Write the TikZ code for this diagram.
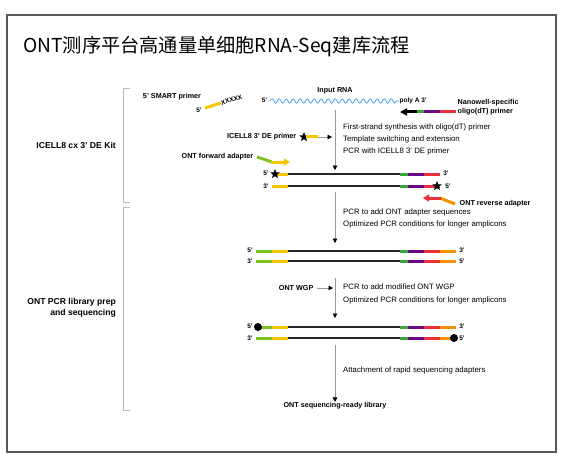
\documentclass[tikz,border=0pt]{standalone}
\usepackage{fontspec}
\setmainfont{Liberation Sans}
\newfontfamily\cjk{Noto Sans CJK SC}
\usetikzlibrary{arrows.meta,decorations.pathmorphing,positioning,shapes.geometric}

\definecolor{adgreen}{HTML}{7CC11F}
\definecolor{dtgreen}{HTML}{3DA63D}
\definecolor{adyellow}{HTML}{F6C700}
\definecolor{dtpurple}{HTML}{660A88}
\definecolor{dtred}{HTML}{E8313B}
\definecolor{adorange}{HTML}{F39200}
\definecolor{rnablue}{HTML}{3A9AF0}

\begin{document}
\begin{tikzpicture}[x=1pt, y=-1pt,
    lbl/.style={font=\bfseries\fontsize{7.2}{8.6}\selectfont, inner sep=0.5pt},
    endlbl/.style={font=\bfseries\fontsize{6.5}{7}\selectfont, inner sep=0.5pt},
    stepnote/.style={font=\fontsize{7.8}{9}\selectfont, anchor=west, inner sep=0pt},
    sidelbl/.style={font=\bfseries\fontsize{8.6}{11}\selectfont, anchor=east, align=right, inner sep=0pt},
    seg/.style={line width=3pt},
    strand/.style={line width=1.1pt, black!85},
    flow/.style={gray!80, line width=0.6pt, -{Triangle[length=4.5pt, width=4.5pt, color=black]}},
    bracket/.style={gray!55, line width=0.5pt},
    starmark/.style={star, star points=5, star point ratio=2.3, fill=black, inner sep=0pt, minimum size=10pt},
    dotmark/.style={circle, fill=black, inner sep=0pt, minimum size=8pt}]
  \useasboundingbox (0,0) rectangle (569,457);

  % frame and title
  \draw[gray!70!black, line width=1.4pt] (7,15) rectangle (556,452);
  \node[anchor=west, inner sep=0pt, font=\cjk\fontsize{19.2}{21}\selectfont] (title) at (23,47) {ONT测序平台高通量单细胞RNA-Seq建库流程};

  % side brackets
  \draw[bracket] (130,88) -- (123,88) -- (123,202) -- (130,202);
  \draw[bracket] (130,207) -- (123,207) -- (123,410) -- (130,410);
  \node[sidelbl] (kit) at (116,145) {ICELL8 cx 3' DE Kit};
  \node[sidelbl] (prep) at (116,308) {ONT PCR library prep\\and sequencing};

  % input RNA and primers
  \node[lbl] (rna) at (335,91) {Input RNA};
  \node[endlbl, anchor=east] (rna5) at (268,100) {5'};
  \draw[rnablue, line width=0.7pt, decorate, decoration={snake, amplitude=2.2pt, segment length=7pt}] (rna5.east) ++(2,1) -- (399,101) coordinate (rnaend);
  \node[endlbl, anchor=west] (polya) at (rnaend) {poly A 3'};

  \node[lbl] (smart) at (172,97) {5' SMART primer};
  \node[endlbl] (smart5) at (199,110) {5'};
  \draw[seg, adyellow] (205,108) -- (221,103) coordinate (smartend);
  \node[endlbl, anchor=west, rotate=17, inner sep=0pt] (xxx) at (smartend) {XXXXX};

  \node[lbl, anchor=west, align=left] (oligo) at (457,107) {Nanowell-specific\\oligo(dT) primer};
  \draw[seg, black, -{Triangle[length=7pt, width=7pt]}] (418,112) -- (400,112);
  \draw[seg, dtgreen] (417,112) -- (424,112);
  \draw[seg, dtpurple] (424,112) -- (440,112);
  \draw[seg, dtred] (440,112) -- (456,112);

  \node[lbl, anchor=east] (decp) at (297,137) {ICELL8 3' DE primer};
  \node[starmark] (decstar) at (304,137) {};
  \draw[seg, adyellow] (306,137) -- (318,137) coordinate (decend);
  \coordinate (dectip) at (332,137);
  \draw[flow, line width=0.5pt] (decend) -- (dectip);

  \node[lbl, anchor=east] (fwd) at (254,157) {ONT forward adapter};
  \draw[seg, adgreen] (257,157) -- (272,162);
  \draw[seg, adyellow, -{Triangle[length=6pt, width=7pt]}] (271,162) -- (290,162);

  % step 1
  \coordinate (s1a) at (335,110);
  \coordinate (s1b) at (335,170);
  \draw[flow] (s1a) -- (s1b);
  \node[stepnote] (n11) at (343,127) {First-strand synthesis with oligo(dT) primer};
  \node[stepnote] (n12) at (343,139) {Template switching and extension};
  \node[stepnote] (n13) at (343,151) {PCR with ICELL8 3' DE primer};

  % cDNA after step 1
  \foreach \y in {174,186} {
    \draw[strand] (288,\y) -- (400,\y);
    \draw[seg, dtgreen] (400,\y) -- (408,\y);
    \draw[seg, dtpurple] (408,\y) -- (424,\y);
    \draw[seg, dtred] (424,\y) -- (440,\y);
  }
  \draw[seg, adyellow] (275,174) -- (288,174);
  \draw[seg, adyellow] (272,186) -- (288,186);
  \node[endlbl] (c1l5) at (266,173) {5'};
  \node[endlbl] (c1l3) at (266,186) {3'};
  \node[endlbl] (c1r3) at (446,173) {3'};
  \node[endlbl] (c1r5) at (448,186) {5'};
  \node[starmark] (c1star1) at (275,174) {};
  \node[starmark] (c1star2) at (437,186) {};

  \draw[seg, adorange] (455,204) -- (440,198);
  \draw[seg, dtred, -{Triangle[length=6pt, width=7pt]}] (441,198) -- (423,198);
  \node[lbl, anchor=west] (rev) at (459,204) {ONT reverse adapter};

  % step 2
  \coordinate (s2a) at (335,192);
  \coordinate (s2b) at (335,243);
  \draw[flow] (s2a) -- (s2b);
  \node[stepnote] (n21) at (343,212) {PCR to add ONT adapter sequences};
  \node[stepnote] (n22) at (343,224) {Optimized PCR conditions for longer amplicons};

  % full strands after step 2 and step 3
  \foreach \y in {251,261,327,338} {
    \draw[seg, adgreen] (256,\y) -- (272,\y);
    \draw[seg, adyellow] (272,\y) -- (288,\y);
    \draw[strand] (288,\y) -- (400,\y);
    \draw[seg, dtgreen] (400,\y) -- (408,\y);
    \draw[seg, dtpurple] (408,\y) -- (424,\y);
    \draw[seg, dtred] (424,\y) -- (440,\y);
    \draw[seg, adorange] (440,\y) -- (456,\y);
  }
  \node[endlbl] (c2l5) at (250,250) {5'};
  \node[endlbl] (c2l3) at (250,261) {3'};
  \node[endlbl] (c2r3) at (462,250) {3'};
  \node[endlbl] (c2r5) at (462,261) {5'};

  % step 3
  \coordinate (s3a) at (335,278);
  \coordinate (s3b) at (335,318);
  \draw[flow] (s3a) -- (s3b);
  \node[lbl, anchor=east] (wgp) at (314,288) {ONT WGP};
  \coordinate (wgptip) at (333,288);
  \draw[flow, line width=0.5pt] (wgp.east) ++(3,0) -- (wgptip);
  \node[stepnote] (n31) at (343,287) {PCR to add modified ONT WGP};
  \node[stepnote] (n32) at (343,300) {Optimized PCR conditions for longer amplicons};

  \node[endlbl] (c3l5) at (250,326) {5'};
  \node[endlbl] (c3l3) at (250,338) {3'};
  \node[endlbl] (c3r3) at (462,326) {3'};
  \node[endlbl] (c3r5) at (462,338) {5'};
  \node[dotmark] (c3dot1) at (258,327) {};
  \node[dotmark] (c3dot2) at (454,338) {};

  % step 4
  \node[lbl] (lib) at (335,406) {ONT sequencing-ready library};
  \coordinate (s4a) at (335,345);
  \draw[flow] (s4a) -- (lib.north);
  \node[stepnote] (n41) at (343,370) {Attachment of rapid sequencing adapters};
\end{tikzpicture}
\end{document}
